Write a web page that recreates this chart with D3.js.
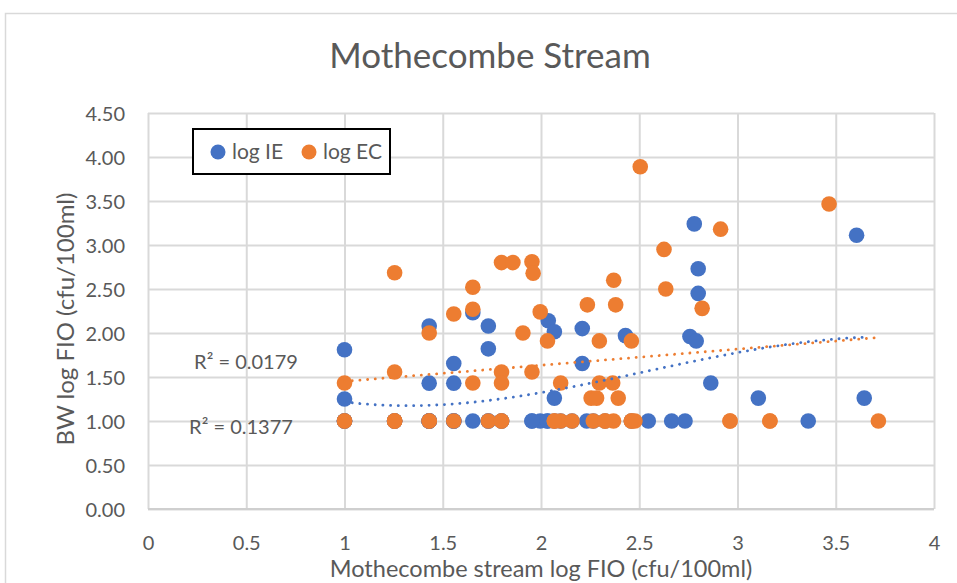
<!DOCTYPE html>
<html>
<head>
<meta charset="utf-8">
<script src="https://cdn.jsdelivr.net/npm/d3@7/dist/d3.min.js"></script>
<style>
  html, body { margin: 0; padding: 0; background: #fff; }
  svg { display: block; font-family: Lato, "Open Sans", sans-serif; }
</style>
</head>
<body>
<svg id="chart" width="957" height="583"></svg>
<script>
// Stream log FIO (x) against bathing-water log FIO (y), cfu/100ml.
// Repeated readings at the 1.00 detection limit sit on top of each other.
const ieX = [1.0, 1.0, 1.431, 1.431, 1.556, 1.556, 1.653, 1.653, 1.732, 1.732,
             1.954, 1.996, 2.033, 2.037, 2.068, 2.068, 2.210, 2.210, 2.233, 2.43,
             2.546, 2.665, 2.733, 2.758, 2.78, 2.79, 2.80, 2.80, 2.864, 3.106,
             3.36, 3.606, 3.645,
             1.0, 1.0, 1.0, 1.255, 1.255, 1.255, 1.431, 1.431, 1.431, 1.431,
             1.431, 1.556, 1.556, 1.556, 1.732, 1.732, 1.799, 1.799, 1.954, 2.033,
             2.068, 2.100, 2.158, 2.266, 2.326, 2.46];
const ieY = [1.81, 1.25, 2.08, 1.43, 1.653, 1.43, 2.23, 1.0, 2.08, 1.82,
             1.0, 1.0, 1.0, 2.14, 2.015, 1.26, 2.05, 1.653, 1.0, 1.97,
             1.0, 1.0, 1.0, 1.96, 3.24, 1.91, 2.73, 2.45, 1.431, 1.26,
             1.0, 3.11, 1.26,
             1.0, 1.0, 1.0, 1.0, 1.0, 1.0, 1.0, 1.0, 1.0, 1.0,
             1.0, 1.0, 1.0, 1.0, 1.0, 1.0, 1.0, 1.0, 1.0, 1.0,
             1.0, 1.0, 1.0, 1.0, 1.0, 1.0];

const ecX = [1.0, 1.0, 1.255, 1.255, 1.255, 1.431, 1.431, 1.556, 1.556, 1.653,
             1.653, 1.653, 1.732, 1.799, 1.799, 1.799, 1.799, 1.857, 1.908, 1.954,
             1.96, 1.954, 1.996, 2.033, 2.068, 2.100, 2.100, 2.158, 2.236, 2.255,
             2.283, 2.266, 2.297, 2.297, 2.326, 2.365, 2.369, 2.37, 2.38, 2.393,
             2.46, 2.46, 2.478, 2.505, 2.626, 2.635, 2.82, 2.914, 2.962, 3.165,
             3.466, 3.717,
             1.0, 1.255, 1.255, 1.431, 1.799, 2.068, 2.326, 2.46, 2.962, 3.165];
const ecY = [1.431, 1.0, 2.685, 1.556, 1.0, 2.0, 1.0, 2.216, 1.0, 2.52,
             2.27, 1.431, 1.0, 2.80, 1.556, 1.431, 1.0, 2.80, 2.0, 2.81,
             2.68, 1.556, 2.24, 1.91, 1.0, 1.431, 1.0, 1.0, 2.32, 1.26,
             1.26, 1.0, 1.91, 1.431, 1.0, 1.431, 1.0, 2.60, 2.32, 1.26,
             1.91, 1.0, 1.0, 3.89, 2.95, 2.50, 2.28, 3.18, 1.0, 1.0,
             3.466, 1.0,
             1.0, 1.0, 1.0, 1.0, 1.0, 1.0, 1.0, 1.0, 1.0, 1.0];

const seriesNames = ["log IE", "log EC"];
const seriesColors = ["#4472C4", "#ED7D31"];
const trendOrders = [3, 1];                    // polynomial (order 3) and linear trendlines
const rSquaredLabels = ["R² = 0.1377", "R² = 0.0179"];
const xTicks = [0, 0.5, 1, 1.5, 2, 2.5, 3, 3.5, 4];
const yTicks = [0, 0.5, 1, 1.5, 2, 2.5, 3, 3.5, 4, 4.5];
const chartTitle = "Mothecombe Stream";
const xTitle = "Mothecombe stream log FIO (cfu/100ml)";
const yTitle = "BW log FIO (cfu/100ml)";

const svg = d3.select("#chart");
const plot = { left: 148, right: 934, top: 113, bottom: 509 };
const textColor = "#595959";
const gridColor = "#d9d9d9";

const x = d3.scaleLinear().domain([0, 4]).range([plot.left, plot.right]);
const y = d3.scaleLinear().domain([0, 4.5]).range([plot.bottom, plot.top]);

// chart frame
svg.append("rect")
  .attr("x", 5.5).attr("y", 13.5).attr("width", 960).attr("height", 600)
  .attr("fill", "#fff").attr("stroke", gridColor).attr("stroke-width", 1.5);

// title
svg.append("text")
  .attr("x", 490).attr("y", 68)
  .attr("text-anchor", "middle")
  .attr("font-size", 35).attr("fill", textColor)
  .text(chartTitle);

// gridlines and tick labels
const gx = svg.append("g")
  .attr("transform", `translate(0,${plot.bottom})`)
  .call(d3.axisBottom(x).tickValues(xTicks).tickSize(-(plot.bottom - plot.top)).tickFormat(d3.format("")));
gx.select(".domain").remove();
gx.selectAll(".tick line").attr("stroke", gridColor).attr("stroke-width", 2);
gx.selectAll(".tick text").attr("fill", textColor).attr("font-size", 20)
  .attr("font-family", "Lato, sans-serif").attr("y", 41).attr("dy", 0);

const gy = svg.append("g")
  .attr("transform", `translate(${plot.left},0)`)
  .call(d3.axisLeft(y).tickValues(yTicks).tickSize(-(plot.right - plot.left)).tickFormat(d3.format(".2f")));
gy.select(".domain").remove();
gy.selectAll(".tick line").attr("stroke", gridColor).attr("stroke-width", 2);
gy.selectAll(".tick text").attr("fill", textColor).attr("font-size", 20)
  .attr("font-family", "Lato, sans-serif").attr("x", -23).attr("dy", "0.36em");

svg.append("line")
  .attr("x1", plot.left).attr("x2", plot.right)
  .attr("y1", plot.bottom).attr("y2", plot.bottom)
  .attr("stroke", "#cfcfcf").attr("stroke-width", 2);

// axis titles
svg.append("text")
  .attr("x", 541).attr("y", 577)
  .attr("text-anchor", "middle").attr("font-size", 23.5).attr("fill", textColor)
  .text(xTitle);
svg.append("text")
  .attr("transform", `translate(74,319) rotate(-90)`)
  .attr("text-anchor", "middle").attr("font-size", 24).attr("fill", textColor)
  .text(yTitle);

// points
const series = [
  { xs: ieX, ys: ieY, color: seriesColors[0], order: trendOrders[0] },
  { xs: ecX, ys: ecY, color: seriesColors[1], order: trendOrders[1] }
];
series.forEach(s => {
  svg.append("g").selectAll("circle")
    .data(s.xs.map((v, i) => [v, s.ys[i]]))
    .join("circle")
    .attr("cx", d => x(d[0])).attr("cy", d => y(d[1]))
    .attr("r", 7.8).attr("fill", s.color);
});

// least-squares polynomial trendline
function polyFit(xs, ys, order) {
  const n = order + 1;
  const A = Array.from({ length: n }, () => new Array(n + 1).fill(0));
  xs.forEach((xv, k) => {
    for (let i = 0; i < n; i++) {
      for (let j = 0; j < n; j++) A[i][j] += Math.pow(xv, i + j);
      A[i][n] += ys[k] * Math.pow(xv, i);
    }
  });
  for (let c = 0; c < n; c++) {
    let p = c;
    for (let r = c + 1; r < n; r++) if (Math.abs(A[r][c]) > Math.abs(A[p][c])) p = r;
    [A[c], A[p]] = [A[p], A[c]];
    for (let r = 0; r < n; r++) {
      if (r === c) continue;
      const f = A[r][c] / A[c][c];
      for (let k = c; k <= n; k++) A[r][k] -= f * A[c][k];
    }
  }
  return A.map((row, i) => row[n] / row[i]);
}

const trendLine = d3.line().x(d => x(d[0])).y(d => y(d[1]));
series.forEach(s => {
  const coef = polyFit(s.xs, s.ys, s.order);
  const [lo, hi] = d3.extent(s.xs);
  const pts = d3.range(0, 101).map(i => {
    const xv = lo + (hi - lo) * i / 100;
    return [xv, coef.reduce((acc, c, p) => acc + c * Math.pow(xv, p), 0)];
  });
  svg.append("path")
    .datum(pts)
    .attr("d", trendLine)
    .attr("fill", "none").attr("stroke", s.color)
    .attr("stroke-width", 2.8).attr("stroke-linecap", "round")
    .attr("stroke-dasharray", "0.1 7.6");
});

// R² labels
svg.append("text").attr("x", 241).attr("y", 434)
  .attr("text-anchor", "middle").attr("font-size", 20).attr("fill", textColor)
  .text(rSquaredLabels[0]);
svg.append("text").attr("x", 246).attr("y", 369)
  .attr("text-anchor", "middle").attr("font-size", 20).attr("fill", textColor)
  .text(rSquaredLabels[1]);

// legend
const legend = svg.append("g");
legend.append("rect")
  .attr("x", 193).attr("y", 129).attr("width", 197).attr("height", 45)
  .attr("fill", "#fff").attr("stroke", "#000").attr("stroke-width", 2);
const legendX = [218, 309];
seriesNames.forEach((name, i) => {
  legend.append("circle").attr("cx", legendX[i]).attr("cy", 152).attr("r", 7.5).attr("fill", seriesColors[i]);
  legend.append("text").attr("x", legendX[i] + 14).attr("y", 159)
    .attr("font-size", 21).attr("fill", textColor).text(name);
});
</script>
</body>
</html>
